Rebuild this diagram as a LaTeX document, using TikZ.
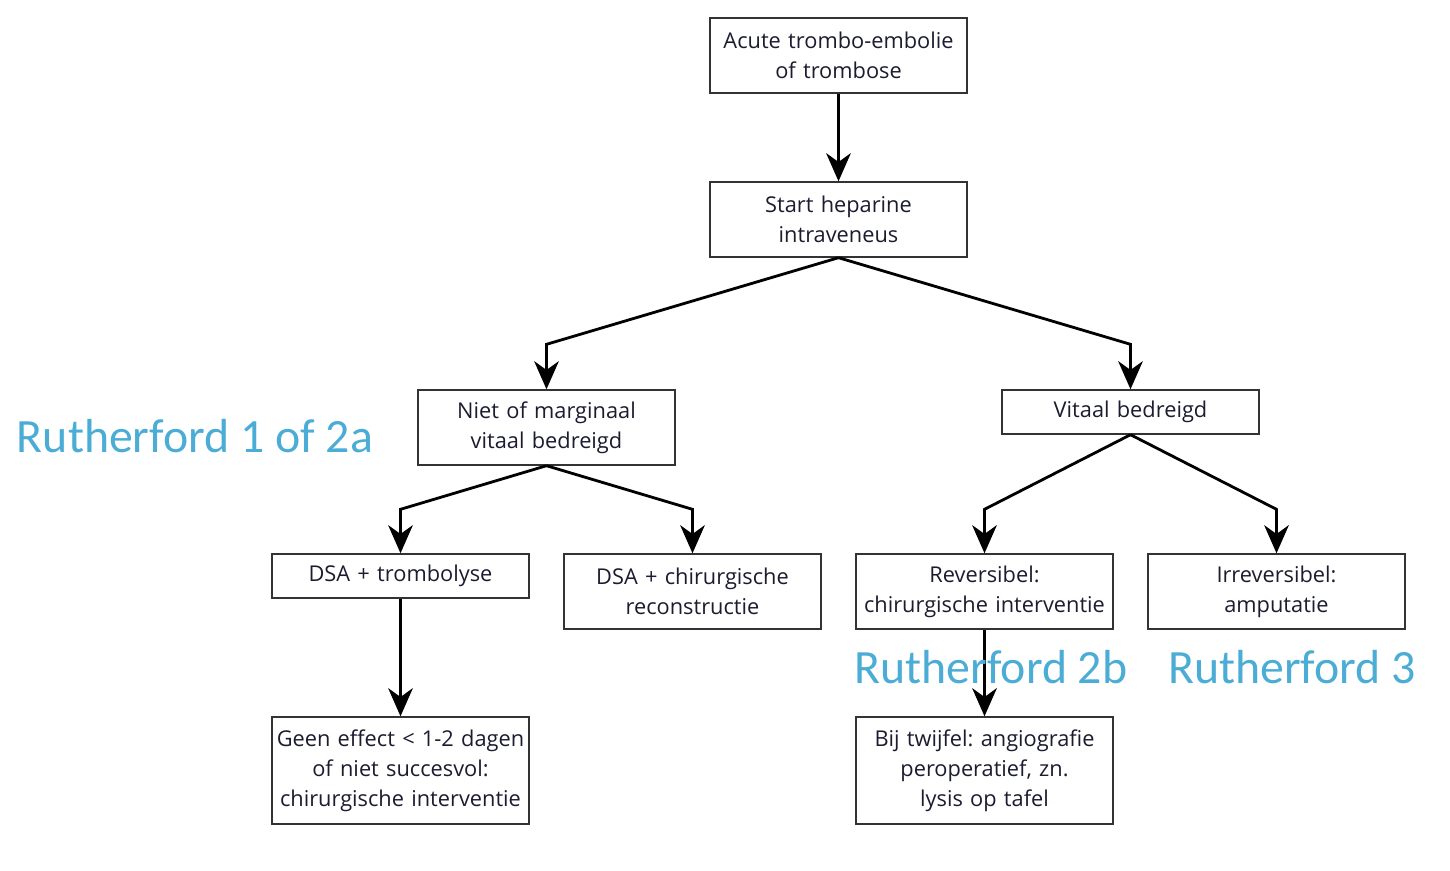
\documentclass[tikz,border=0pt]{standalone}
\usepackage{fontspec}
\setmainfont{Open Sans}
\newfontfamily\calib{Carlito}
\usetikzlibrary{arrows.meta}
\frenchspacing
\definecolor{rblue}{HTML}{4BACD6}
\definecolor{boxtext}{HTML}{1C1C30}
\definecolor{boxline}{HTML}{333333}
\tikzset{
  box/.style={draw=boxline, line width=0.8pt, rectangle, minimum width=5.14cm, text width=5cm, align=center, inner sep=0pt, text=boxtext, font=\fontsize{12.4}{17}\selectfont},
  arr/.style={line width=1.6pt, -{Stealth[length=16pt, width=14pt, inset=5pt]}},
  rlabel/.style={text=rblue, font=\calib\fontsize{27.2}{30}\selectfont, inner sep=0pt}
}
\begin{document}
\begin{tikzpicture}[x=0.02cm, y=-0.02cm]
\useasboundingbox (0,0) rectangle (1450,870);
\node[box, minimum height=1.5cm] (n1) at (838.5,55.5) {Acute trombo-embolie\\of trombose};
\node[box, minimum height=1.5cm] (n2) at (838.5,219.5) {Start heparine\\intraveneus};
\node[box, minimum height=1.5cm] (n3) at (546.5,427.5) {Niet of marginaal\\vitaal bedreigd};
\node[box, minimum height=0.88cm] (n4) at (1130.5,412) {Vitaal bedreigd};
\node[box, minimum height=0.88cm] (n5) at (400.5,576) {DSA + trombolyse};
\node[box, minimum height=1.5cm] (n6) at (692.5,591.5) {DSA + chirurgische\\reconstructie};
\node[box, minimum height=1.5cm] (n7) at (984.5,591.5) {Reversibel:\\chirurgische interventie};
\node[box, minimum height=1.5cm] (n8) at (1276.5,591.5) {Irreversibel:\\amputatie};
\node[box, minimum height=2.14cm] (n9) at (400.5,770.5) {Geen effect < 1-2 dagen\\of niet succesvol:\\chirurgische interventie};
\node[box, minimum height=2.14cm] (n10) at (984.5,770.5) {Bij twijfel: angiografie\\peroperatief, zn.\\lysis op tafel};

\draw[arr] (n1.south) -- (n2.north);
\draw[arr] (n2.south) -- ([yshift=0.9cm]n3.north) -- (n3.north);
\draw[arr] (n2.south) -- ([yshift=0.9cm]n4.north) -- (n4.north);
\draw[arr] (n3.south) -- ([yshift=0.88cm]n5.north) -- (n5.north);
\draw[arr] (n3.south) -- ([yshift=0.88cm]n6.north) -- (n6.north);
\draw[arr] (n4.south) -- ([yshift=0.88cm]n7.north) -- (n7.north);
\draw[arr] (n4.south) -- ([yshift=0.88cm]n8.north) -- (n8.north);
\draw[arr] (n5.south) -- (n9.north);
\draw[arr] (n7.south) -- (n10.north);

\node[rlabel] (l1) at (195,436) {Rutherford 1 of 2a};
\node[rlabel] (l2) at (991,667) {Rutherford 2b};
\node[rlabel] (l3) at (1292,667) {Rutherford 3};
\end{tikzpicture}
\end{document}
